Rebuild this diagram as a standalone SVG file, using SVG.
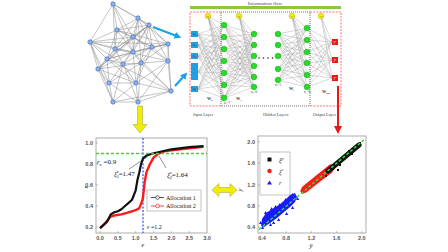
<svg xmlns="http://www.w3.org/2000/svg" width="448" height="252" viewBox="0 0 448 252">
<defs>
<style>
.gedge{stroke:#8a8a8a;stroke-width:0.5;fill:none}
.nedge{stroke:#9c9c9c;stroke-width:0.4;fill:none}
.gnode{fill:#8fb4ec;stroke:#2f5fbf;stroke-width:0.6}
.green{fill:#22e022;stroke:#129a12;stroke-width:0.5}
.bias{fill:#f4ee10;stroke:#b0a800;stroke-width:0.5}
.inp{fill:#1ea0e6}
.outn{fill:#e81818}
.tiny{font-family:"Liberation Serif",serif;font-size:3.2px;fill:#333}
.lbl{font-family:"Liberation Serif",serif;font-size:4.3px;fill:#444}
.tick{font-family:"Liberation Sans",sans-serif;font-size:5.5px;fill:#555;font-weight:bold}
.ann{font-family:"Liberation Serif",serif;font-size:7px;fill:#111}
.leg{font-family:"Liberation Serif",serif;font-size:6px;fill:#111}
.frame{fill:#fff;stroke:#999;stroke-width:0.8}
.yarrow{fill:#f2ee00;stroke:#9a9a60;stroke-width:0.5}
</style>
<marker id="bah" viewBox="0 0 10 10" refX="5" refY="5" markerWidth="3.2" markerHeight="3.2" orient="auto"><path d="M0 0L10 5L0 10z" fill="#1ea0e6"/></marker>
</defs>
<rect width="448" height="252" fill="#fff"/>

<!-- network graph -->
<g id="graph">
<path class="gedge" d="M113 4 138 18M113 4 149 25M113 4 117 30M113 4 133 37M113 4 90 42M113 4 115 49M113 4 133 52M138 18 149 25M138 18 117 30M138 18 133 37M138 18 168 44M138 18 152 47M138 18 133 52M138 18 141 63M149 25 117 30M149 25 133 37M149 25 168 44M149 25 152 47M149 25 115 49M149 25 133 52M149 25 107 59M149 25 168 61M149 25 141 63M149 25 123 64M117 30 90 42M117 30 133 37M117 30 115 49M117 30 168 44M117 30 133 52M117 30 107 59M133 37 152 47M133 37 115 49M133 37 133 52M133 37 90 42M133 37 98 69M133 37 168 61M90 42 115 49M90 42 107 59M90 42 98 69M90 42 109 83M90 42 123 64M90 42 133 52M90 42 168 44M168 44 152 47M168 44 133 52M168 44 168 61M168 44 141 63M168 44 107 59M152 47 133 52M152 47 168 61M152 47 141 63M152 47 136 83M152 47 123 64M115 49 133 52M115 49 107 59M115 49 123 64M115 49 98 69M115 49 168 61M133 52 107 59M133 52 123 64M133 52 141 63M133 52 98 69M133 52 136 83M133 52 171 91M107 59 123 64M107 59 98 69M107 59 109 83M107 59 171 91M107 59 136 83M123 64 141 63M123 64 109 83M123 64 136 83M123 64 138 102M123 64 113 102M141 63 168 61M141 63 136 83M141 63 171 91M141 63 138 102M141 63 109 83M168 61 171 91M168 61 136 83M168 61 138 102M98 69 109 83M98 69 113 102M98 69 136 83M98 69 141 63M109 83 136 83M109 83 113 102M109 83 138 102M136 83 171 91M136 83 138 102M136 83 113 102M171 91 138 102M171 91 113 102M113 102 138 102M168 44 171 91M90 42 113 102M117 30 152 47M138 18 115 49M149 25 98 69"/>
<circle class="gnode" cx="113" cy="4" r="2.2"/><circle class="gnode" cx="138" cy="18" r="2.2"/><circle class="gnode" cx="149" cy="25" r="2.2"/><circle class="gnode" cx="117" cy="30" r="2.2"/><circle class="gnode" cx="133" cy="37" r="2.2"/><circle class="gnode" cx="90" cy="42" r="2.2"/><circle class="gnode" cx="168" cy="44" r="2.2"/><circle class="gnode" cx="152" cy="47" r="2.2"/><circle class="gnode" cx="115" cy="49" r="2.2"/><circle class="gnode" cx="133" cy="52" r="2.2"/><circle class="gnode" cx="107" cy="59" r="2.2"/><circle class="gnode" cx="123" cy="64" r="2.2"/><circle class="gnode" cx="141" cy="63" r="2.2"/><circle class="gnode" cx="168" cy="61" r="2.2"/><circle class="gnode" cx="98" cy="69" r="2.2"/><circle class="gnode" cx="109" cy="83" r="2.2"/><circle class="gnode" cx="136" cy="83" r="2.2"/><circle class="gnode" cx="171" cy="91" r="2.2"/><circle class="gnode" cx="113" cy="102" r="2.2"/><circle class="gnode" cx="138" cy="102" r="2.2"/>
</g>

<!-- connectors / arrows -->
<g id="connectors">
<path d="M153 27L178 36.5" stroke="#1ea0e6" stroke-width="2.2" fill="none" marker-end="url(#bah)"/>
<path d="M175 86L185 75" stroke="#1ea0e6" stroke-width="2.2" fill="none" marker-end="url(#bah)"/>
<polygon class="yarrow" points="137.5,106 142.5,106 142.5,124.5 147,124.5 140,133 133,124.5 137.5,124.5"/>
<polygon class="yarrow" points="212,190 219,183.5 219,187.5 230,187.5 230,183.5 237,190 230,196.5 230,192.5 219,192.5 219,196.5"/>
<path d="M338 86V127" stroke="#e81818" stroke-width="2"/>
<polygon points="334,126 342,126 338,134" fill="#e81818"/>
</g>

<!-- neural network -->
<g id="nn">
<text x="265" y="4.5" text-anchor="middle" class="lbl" style="font-size:5px">Information flow</text>
<rect x="190" y="6" width="151" height="3" fill="#8dc63f"/>
<path d="M221 12H190V106H221M310 12H341V106H310" fill="none" stroke="#ff7070" stroke-width="1" stroke-dasharray="2 1.2"/>
<rect x="221" y="12" width="89" height="94" fill="none" stroke="#333" stroke-width="0.7" stroke-dasharray="1 1"/>
<path class="nedge" d="M198 34 224 25M198 34 224 37M198 34 224 49M198 34 224 61M198 34 224 73M198 34 224 85M198 34 224 98M198 45 224 25M198 45 224 37M198 45 224 49M198 45 224 61M198 45 224 73M198 45 224 85M198 45 224 98M198 56 224 25M198 56 224 37M198 56 224 49M198 56 224 61M198 56 224 73M198 56 224 85M198 56 224 98M198 72 224 25M198 72 224 37M198 72 224 49M198 72 224 61M198 72 224 73M198 72 224 85M198 72 224 98M198 89 224 25M198 89 224 37M198 89 224 49M198 89 224 61M198 89 224 73M198 89 224 85M198 89 224 98M208 16 224 25M208 16 224 37M208 16 224 49M208 16 224 61M208 16 224 73M208 16 224 85M208 16 224 98"/>
<path class="nedge" d="M224 25 254 34M224 25 254 45M224 25 254 56M224 25 254 66M224 25 254 77M224 25 254 87M224 37 254 34M224 37 254 45M224 37 254 56M224 37 254 66M224 37 254 77M224 37 254 87M224 49 254 34M224 49 254 45M224 49 254 56M224 49 254 66M224 49 254 77M224 49 254 87M224 61 254 34M224 61 254 45M224 61 254 56M224 61 254 66M224 61 254 77M224 61 254 87M224 73 254 34M224 73 254 45M224 73 254 56M224 73 254 66M224 73 254 77M224 73 254 87M224 85 254 34M224 85 254 45M224 85 254 56M224 85 254 66M224 85 254 77M224 85 254 87M224 98 254 34M224 98 254 45M224 98 254 56M224 98 254 66M224 98 254 77M224 98 254 87M239 16 254 34M239 16 254 45M239 16 254 56M239 16 254 66M239 16 254 77M239 16 254 87"/>
<path class="nedge" d="M278 34 307 28M278 34 307 40M278 34 307 52M278 34 307 63M278 34 307 75M278 34 307 87M278 45 307 28M278 45 307 40M278 45 307 52M278 45 307 63M278 45 307 75M278 45 307 87M278 56 307 28M278 56 307 40M278 56 307 52M278 56 307 63M278 56 307 75M278 56 307 87M278 69 307 28M278 69 307 40M278 69 307 52M278 69 307 63M278 69 307 75M278 69 307 87M278 80 307 28M278 80 307 40M278 80 307 52M278 80 307 63M278 80 307 75M278 80 307 87M292 16 307 28M292 16 307 40M292 16 307 52M292 16 307 63M292 16 307 75M292 16 307 87"/>
<path class="nedge" d="M307 28 332 42M307 28 332 60M307 28 332 78M307 40 332 42M307 40 332 60M307 40 332 78M307 52 332 42M307 52 332 60M307 52 332 78M307 63 332 42M307 63 332 60M307 63 332 78M307 75 332 42M307 75 332 60M307 75 332 78M307 87 332 42M307 87 332 60M307 87 332 78M321 16 332 42M321 16 332 60M321 16 332 78"/>
<rect class="inp" x="191" y="31" width="7" height="6"/><rect class="inp" x="191" y="42" width="7" height="6"/><rect class="inp" x="191" y="53" width="7" height="6"/><rect class="inp" x="191" y="63" width="7" height="17"/><rect class="inp" x="191" y="86" width="7" height="6"/>
<text class="tiny" x="194.5" y="35.2" text-anchor="middle">ω₁</text>
<text class="tiny" x="194.5" y="46.2" text-anchor="middle">ω₂</text>
<text class="tiny" x="194.5" y="57.2" text-anchor="middle">ω₃</text>
<text class="tiny" x="194.5" y="67" text-anchor="middle">·</text><text class="tiny" x="194.5" y="71" text-anchor="middle">·</text><text class="tiny" x="194.5" y="75" text-anchor="middle">·</text>
<text class="tiny" x="194.5" y="90.2" text-anchor="middle">ωₙ</text>
<circle class="bias" cx="208" cy="16" r="2.8"/><circle class="bias" cx="239" cy="16" r="2.8"/><circle class="bias" cx="292" cy="16" r="2.8"/><circle class="bias" cx="321" cy="16" r="2.8"/>
<text class="tiny" x="208" y="17" text-anchor="middle" style="font-size:2.6px">b₀</text>
<text class="tiny" x="239" y="17" text-anchor="middle" style="font-size:2.6px">b₁</text>
<text class="tiny" x="292" y="17" text-anchor="middle" style="font-size:2.6px">bₗ</text>
<text class="tiny" x="321" y="17" text-anchor="middle" style="font-size:2.6px">bₗ</text>
<circle class="green" cx="224" cy="25" r="2.8"/><circle class="green" cx="224" cy="37" r="2.8"/><circle class="green" cx="224" cy="49" r="2.8"/><circle class="green" cx="224" cy="61" r="2.8"/><circle class="green" cx="224" cy="73" r="2.8"/><circle class="green" cx="224" cy="85" r="2.8"/><circle class="green" cx="224" cy="98" r="2.8"/>
<circle class="green" cx="254" cy="34" r="2.8"/><circle class="green" cx="254" cy="45" r="2.8"/><circle class="green" cx="254" cy="56" r="2.8"/><circle class="green" cx="254" cy="66" r="2.8"/><circle class="green" cx="254" cy="77" r="2.8"/><circle class="green" cx="254" cy="87" r="2.8"/>
<circle class="green" cx="278" cy="34" r="2.8"/><circle class="green" cx="278" cy="45" r="2.8"/><circle class="green" cx="278" cy="56" r="2.8"/><circle class="green" cx="278" cy="69" r="2.8"/><circle class="green" cx="278" cy="80" r="2.8"/>
<circle class="green" cx="307" cy="28" r="2.8"/><circle class="green" cx="307" cy="40" r="2.8"/><circle class="green" cx="307" cy="52" r="2.8"/><circle class="green" cx="307" cy="63" r="2.8"/><circle class="green" cx="307" cy="75" r="2.8"/><circle class="green" cx="307" cy="87" r="2.8"/>
<circle cx="259" cy="58" r="0.8" fill="#222"/><circle cx="263.5" cy="58" r="0.8" fill="#222"/><circle cx="268" cy="58" r="0.8" fill="#222"/><circle cx="272.5" cy="58" r="0.8" fill="#222"/>
<rect class="outn" x="332" y="39" width="6" height="6"/><rect class="outn" x="332" y="57" width="6" height="6"/><rect class="outn" x="332" y="75" width="6" height="6"/>
<text class="tiny" x="335" y="43" text-anchor="middle" style="fill:#fff">y¹</text>
<text class="tiny" x="335" y="61" text-anchor="middle" style="fill:#fff">y²</text>
<text class="tiny" x="335" y="79" text-anchor="middle" style="fill:#fff">y³</text>
<text class="tiny" x="224" y="104">n₁=7</text>
<text class="tiny" x="251" y="93">n₂=6</text>
<text class="tiny" x="275" y="86">nₗ=5</text>
<text class="tiny" x="304" y="93">n<tspan style="font-size:2.2px" dy="0.8">L</tspan><tspan dy="-0.8">=6</tspan></text>
<text class="lbl" x="207" y="100" style="font-weight:bold">W<tspan style="font-size:2.8px" dy="0.8">0</tspan></text>
<text class="lbl" x="236" y="100" style="font-weight:bold">W<tspan style="font-size:2.8px" dy="0.8">1</tspan></text>
<text class="lbl" x="289" y="90" style="font-weight:bold">W<tspan style="font-size:2.8px" dy="0.8">l</tspan></text>
<text class="lbl" x="322" y="93" style="font-weight:bold">W<tspan style="font-size:2.8px" dy="0.8">out</tspan></text>
<text class="lbl" x="193" y="116">Input Layer</text>
<text class="lbl" x="263" y="116">Hidden Layers</text>
<text class="lbl" x="313" y="116">Output Layer</text>
</g>

<!-- left plot -->
<g id="plot-left">
<rect class="frame" x="96" y="138" width="111" height="95"/>
<path d="M96 143h2M96 164h2M96 185h2M96 206h2M96 227h2M100 233v-2M117.9 233v-2M135.7 233v-2M153.6 233v-2M171.4 233v-2M189.3 233v-2" stroke="#999" stroke-width="0.6"/>
<text class="tick" x="93" y="145" text-anchor="end">1.0</text>
<text class="tick" x="93" y="166" text-anchor="end">0.8</text>
<text class="tick" x="93" y="187" text-anchor="end">0.6</text>
<text class="tick" x="93" y="208" text-anchor="end">0.4</text>
<text class="tick" x="93" y="229" text-anchor="end">0.2</text>
<text class="tick" x="100" y="240" text-anchor="middle">0.0</text>
<text class="tick" x="117.9" y="240" text-anchor="middle">0.5</text>
<text class="tick" x="135.7" y="240" text-anchor="middle">1.0</text>
<text class="tick" x="153.6" y="240" text-anchor="middle">1.5</text>
<text class="tick" x="171.4" y="240" text-anchor="middle">2.0</text>
<text class="tick" x="189.3" y="240" text-anchor="middle">2.5</text>
<text class="tick" x="207" y="240" text-anchor="middle">3.0</text>
<text class="ann" x="86" y="189" font-style="italic" transform="rotate(-90 86 187)" text-anchor="middle">r</text>
<text class="ann" x="143" y="247" font-style="italic" text-anchor="middle">ε</text>
<path d="M143 138V233" stroke="#3344ff" stroke-width="1.2" stroke-dasharray="2 1.6"/>
<path d="M100 228.1L103.6 224.9L107.1 220.7L110.7 216.5L114.3 215.5L121.4 214.4L128.6 212.3L135.7 210.2L139.3 208.1L141.1 203.9L142.8 198.7L144.6 182.9L146.4 172.4L150 164L153.6 157.7L158.5 153.5L164.3 151.4L171.4 150.4L189.3 148.3L203.5 146.7" fill="none" stroke="#ff1a1a" stroke-width="2.4" stroke-linejoin="round"/>
<path d="M100 228.1L103.6 224.9L107.1 221.8L110.7 214.4L114.3 212.3L117.9 211.3L121.4 209.2L125 206L128.6 202.9L132.1 199.7L135.7 190.3L137.5 179.8L139.3 172.4L141.1 164L142.8 158.8L146.4 155.6L152.5 153.5L157.1 152.5L171.4 149.3L189.3 147.2L203.5 146.2" fill="none" stroke="#111" stroke-width="2.2" stroke-linejoin="round"/>
<path d="M96 153.5H207" stroke="#33dd33" stroke-width="1.5" stroke-dasharray="3 2"/>
<path d="M129 169L147 157M166 168L159 156" stroke="#222" stroke-width="0.5"/>
<text class="ann" x="97" y="164"><tspan font-style="italic">r</tspan><tspan style="font-size:4.5px" dy="1.5">c</tspan><tspan dy="-1.5"> =0.9</tspan></text>
<text class="ann" x="114" y="176"><tspan font-style="italic">ξ</tspan><tspan style="font-size:4.5px" dx="-0.3" dy="1.8">1</tspan><tspan style="font-size:4.5px" dx="-2.3" dy="-5">c</tspan><tspan dy="3.2">=1.47</tspan></text>
<text class="ann" x="167" y="177"><tspan font-style="italic">ξ</tspan><tspan style="font-size:4.5px" dx="-0.3" dy="1.8">2</tspan><tspan style="font-size:4.5px" dx="-2.3" dy="-5">c</tspan><tspan dy="3.2">=1.64</tspan></text>
<text class="ann" x="147" y="229" style="font-size:6px"><tspan font-style="italic">ε</tspan> =1.2</text>
<rect x="147" y="190" width="54" height="21" fill="#fff" stroke="#888" stroke-width="0.5"/>
<path d="M151 197.5H164" stroke="#222" stroke-width="0.8"/><circle cx="157.5" cy="197.5" r="1.8" fill="#fff" stroke="#222" stroke-width="0.7"/>
<path d="M151 206H164" stroke="#ff1a1a" stroke-width="0.8"/><circle cx="157.5" cy="206" r="1.8" fill="#fff" stroke="#ff1a1a" stroke-width="0.7"/>
<text class="leg" x="166" y="199.5">Allocation 1</text>
<text class="leg" x="166" y="208">Allocation 2</text>
</g>

<!-- right plot -->
<g id="plot-right">
<rect class="frame" x="258" y="136" width="108" height="97"/>
<path d="M258 142h2M258 163h2M258 185h2M258 206h2M258 227h2M262 233v-2M286.2 233v-2M311.4 233v-2M336.6 233v-2M361.8 233v-2" stroke="#999" stroke-width="0.6"/>
<text class="tick" x="255" y="144" text-anchor="end">2.0</text>
<text class="tick" x="255" y="165" text-anchor="end">1.6</text>
<text class="tick" x="255" y="187" text-anchor="end">1.2</text>
<text class="tick" x="255" y="208" text-anchor="end">0.8</text>
<text class="tick" x="255" y="229" text-anchor="end">0.4</text>
<text class="tick" x="262" y="240" text-anchor="middle">0.4</text>
<text class="tick" x="286.2" y="240" text-anchor="middle">0.8</text>
<text class="tick" x="311.4" y="240" text-anchor="middle">1.2</text>
<text class="tick" x="336.6" y="240" text-anchor="middle">1.6</text>
<text class="tick" x="361.8" y="240" text-anchor="middle">2.0</text>
<text class="ann" x="240" y="192" font-style="italic" transform="rotate(-90 240 190)" text-anchor="middle">y</text>
<text class="ann" x="311" y="248" font-style="italic" text-anchor="middle">ŷ</text>
<polygon points="261,226 262,219 266,213 272,209 279,205 285,200 290,195 295,193 297,197 295,202 290,207 284,212 277,218 270,223 264,227" fill="#1a1aff"/>
<path d="M261 229l1.6-3 1.6 3zM265 223l1.6-3 1.6 3zM269 226l1.6-3 1.6 3zM264 214l1.6-3 1.6 3zM270 210l1.6-3 1.6 3zM277 221l1.6-3 1.6 3zM278 206l1.6-3 1.6 3zM285 215l1.6-3 1.6 3zM284 201l1.6-3 1.6 3zM291 209l1.6-3 1.6 3zM291 196l1.6-3 1.6 3zM296 200l1.6-3 1.6 3zM259 224l1.6-3 1.6 3zM274 208l1.6-3 1.6 3zM272 224l1.6-3 1.6 3zM288 199l1.6-3 1.6 3z" fill="#1a1aff"/>
<path d="M305 189L331 168" stroke="#ff1a1a" stroke-width="7" stroke-linecap="round"/>
<path d="M303 191L330 171" stroke="#ff1a1a" stroke-width="5" stroke-linecap="round"/>
<path d="M328 171L359 145" stroke="#111" stroke-width="5.2" stroke-linecap="round"/>
<path d="M325 175h2v2h-2zM332 166h2v2h-2zM339 164h2v2h-2zM345 155h2v2h-2zM351 153h2v2h-2zM355 145h2v2h-2zM359 142h2v2h-2zM348 150h2v2h-2zM337 169h2v2h-2zM342 159h2v2h-2z" fill="#111"/>
<path d="M259 229.5L365 139" stroke="#33dd33" stroke-width="1.4" stroke-dasharray="3 2"/>
<rect x="260" y="152" width="30" height="43" fill="#fff" stroke="#888" stroke-width="0.5"/>
<rect x="267.5" y="157.5" width="4" height="4" fill="#111"/>
<circle cx="269.5" cy="171" r="2.2" fill="#ff1a1a"/>
<polygon points="269.5,180.5 272,184.5 267,184.5" fill="#1a1aff"/>
<text class="leg" x="279" y="162" font-style="italic">ξ<tspan style="font-size:4px" dy="-2.5">p</tspan></text>
<text class="leg" x="279" y="173.5" font-style="italic">ξ<tspan style="font-size:4px" dy="-2.5">c</tspan></text>
<text class="leg" x="279" y="185" font-style="italic">r</text>
</g>
</svg>
